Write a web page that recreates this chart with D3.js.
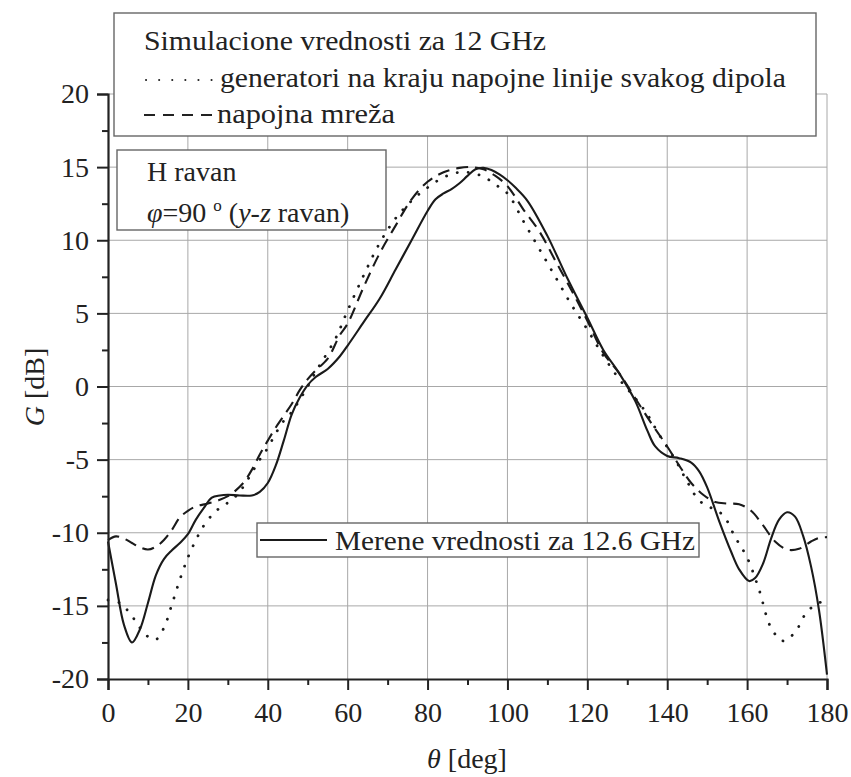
<!DOCTYPE html>
<html>
<head>
<meta charset="utf-8">
<script src="https://cdn.jsdelivr.net/npm/d3@7"></script>
<style>
  html, body { margin: 0; padding: 0; background: #fff; }
  svg { display: block; }
  svg text { font-family: "Liberation Serif", "Times New Roman", "DejaVu Serif", serif; }
</style>
</head>
<body>
<svg id="chart" width="851" height="777"></svg>
<script>
// Measured gain, 12.6 GHz: [theta deg, G dB]
const measured = [
  [0,-10.6],[2,-13.5],[4,-16.3],[6,-17.5],[8,-16.6],[10,-14.8],[12,-12.9],[14,-11.8],
  [16,-11.2],[18,-10.7],[20,-10.1],[22,-9.1],[24,-8.3],[26,-7.6],[28,-7.45],[30,-7.4],
  [33,-7.45],[36,-7.45],[38,-7.2],[40,-6.6],[42,-5.4],[44,-3.7],[46,-1.9],[48,-0.75],
  [50,0.1],[52,0.65],[55,1.2],[58,2.05],[60,2.8],[64,4.4],[68,6.0],[72,8.0],[76,10.0],
  [80,12.0],[82,12.8],[84,13.2],[86,13.5],[88,13.9],[90,14.4],[92,14.85],[94,14.95],
  [96,14.8],[98,14.5],[100,14.1],[102,13.6],[105,12.7],[110,10.3],[115,7.4],[120,4.7],
  [124,2.5],[128,0.9],[132,-1.0],[135,-3.0],[137,-4.1],[140,-4.75],[143,-4.9],[146,-5.2],
  [148,-5.8],[150,-6.9],[153,-9.2],[156,-11.3],[158,-12.5],[160.5,-13.3],[162,-13.1],
  [164,-12.1],[166,-10.4],[168,-9.1],[170,-8.6],[172,-8.9],[174,-10.2],[176,-12.3],
  [178,-15.3],[180,-19.7]
];

// Simulation, 12 GHz, feed network
const simNetwork = [
  [0,-10.5],[2,-10.25],[4,-10.4],[6,-10.7],[8,-11.0],[10,-11.15],[12,-10.95],[14,-10.5],
  [16,-9.8],[18,-8.95],[20,-8.5],[22,-8.2],[25,-8.0],[28,-7.75],[30,-7.5],[32,-7.1],
  [34,-6.55],[36,-5.7],[38,-4.65],[40,-3.7],[42,-2.8],[44,-2.0],[46,-1.2],[48,-0.25],
  [50,0.5],[52,1.1],[55,1.9],[58,3.5],[60,4.3],[64,6.8],[68,9.1],[72,11.0],[76,12.8],
  [80,14.0],[84,14.65],[88,14.95],[91,15.0],[94,14.85],[97,14.4],[100,13.7],[104,12.1],
  [108,10.6],[112,8.6],[116,6.6],[120,4.5],[124,2.3],[128,0.9],[132,-0.8],[136,-2.5],
  [140,-4.1],[143,-5.4],[146,-6.6],[149,-7.4],[152,-7.9],[155,-8.0],[158,-8.05],
  [161,-8.5],[164,-9.5],[167,-10.6],[170,-11.15],[173,-11.1],[176,-10.6],[178,-10.35],
  [180,-10.3]
];

// Simulation, 12 GHz, generators at the end of each dipole feed line
const simGenerators = [
  [0,-14.6],[3,-14.8],[6,-15.7],[8,-16.5],[10,-17.1],[12,-17.3],[14,-16.5],[16,-14.9],
  [18,-13.2],[20,-11.7],[22,-10.5],[24,-9.5],[26,-8.8],[28,-8.3],[30,-7.95],[32,-7.5],
  [34,-6.8],[36,-5.9],[38,-5.0],[40,-4.2],[42,-3.2],[44,-2.35],[46,-1.75],[48,-0.9],
  [50,0.0],[52,1.0],[54,1.9],[57,3.3],[60,5.2],[64,7.6],[68,9.8],[72,11.5],[76,12.7],
  [80,13.6],[84,14.3],[88,14.65],[91,14.6],[94,14.35],[97,13.8],[100,13.2],[104,11.3],
  [108,9.4],[112,7.5],[116,5.6],[120,3.9],[124,2.1],[128,0.5],[132,-0.8],[135,-1.9],
  [138,-3.3],[142,-5.0],[145,-6.5],[148,-7.8],[151,-8.3],[154,-8.8],[157,-10.3],
  [160,-11.7],[163,-13.9],[166,-16.5],[169,-17.4],[172,-16.8],[175,-15.4],[178,-14.8],
  [180,-14.6]
];

const xTicks = [0,20,40,60,80,100,120,140,160,180];
const yTicks = [-20,-15,-10,-5,0,5,10,15,20];
const xMinor = [10,30,50,70,90,110,130,150,170];
const yMinor = [-17.5,-12.5,-7.5,-2.5,2.5,7.5,12.5,17.5];

const FONT = "'Liberation Serif', 'Times New Roman', 'DejaVu Serif', serif";
const INK = "#222";
const FS = 28;

const svg = d3.select("#chart");
const x = d3.scaleLinear().domain([0,180]).range([108,827]);
const y = d3.scaleLinear().domain([-20,20]).range([679,94]);

// grid
const grid = svg.append("g").attr("stroke", "#a8a8a8").attr("stroke-width", 1);
grid.selectAll("line.gx").data(xTicks.slice(1)).join("line")
  .attr("x1", d => x(d)).attr("x2", d => x(d)).attr("y1", y(-20)).attr("y2", y(20));
grid.selectAll("line.gy").data(yTicks.slice(1)).join("line")
  .attr("x1", x(0)).attr("x2", x(180)).attr("y1", d => y(d)).attr("y2", d => y(d));

// curves
const line = d3.line().x(d => x(d[0])).y(d => y(d[1])).curve(d3.curveCatmullRom.alpha(0.5));
const curves = svg.append("g").attr("fill", "none").attr("stroke", "#1a1a1a");
curves.append("path").datum(simGenerators).attr("d", line)
  .attr("stroke-width", 2.8).attr("stroke-dasharray", "0.1,11").attr("stroke-linecap", "round");
curves.append("path").datum(simNetwork).attr("d", line)
  .attr("stroke-width", 2.1).attr("stroke-dasharray", "12,7");
curves.append("path").datum(measured).attr("d", line)
  .attr("stroke-width", 2.1);

// axes
const fmt = d => String(d);
svg.append("g").attr("transform", `translate(0,${y(-20)})`)
  .call(d3.axisBottom(x).tickValues(xTicks).tickSize(11).tickPadding(12).tickFormat(fmt));
svg.append("g").attr("transform", `translate(0,${y(-20)})`)
  .call(d3.axisBottom(x).tickValues(xMinor).tickSize(6).tickFormat(""))
  .call(g => g.select(".domain").remove());
svg.append("g").attr("transform", `translate(${x(0)},0)`)
  .call(d3.axisLeft(y).tickValues(yTicks).tickSize(11).tickPadding(8).tickFormat(fmt));
svg.append("g").attr("transform", `translate(${x(0)},0)`)
  .call(d3.axisLeft(y).tickValues(yMinor).tickSize(6).tickFormat(""))
  .call(g => g.select(".domain").remove());

svg.selectAll(".domain").attr("stroke", INK).attr("stroke-width", 2.2);
svg.selectAll(".tick line").attr("stroke", INK).attr("stroke-width", 2);
svg.selectAll(".tick text").attr("fill", INK).style("font-family", FONT).attr("font-size", FS);

// axis titles
svg.append("text").attr("transform", "translate(44,387) rotate(-90)")
  .attr("text-anchor", "middle").attr("font-size", FS).attr("fill", INK).style("font-family", FONT)
  .call(t => { t.append("tspan").attr("font-style", "italic").text("G"); t.append("tspan").text(" [dB]"); });
svg.append("text").attr("x", 467).attr("y", 768)
  .attr("text-anchor", "middle").attr("font-size", FS).attr("fill", INK).style("font-family", FONT)
  .call(t => { t.append("tspan").attr("font-style", "italic").text("θ"); t.append("tspan").text(" [deg]"); });

function label(g, xx, yy, s, w) {
  const t = g.append("text").attr("x", xx).attr("y", yy).attr("font-size", FS)
    .attr("fill", INK).style("font-family", FONT);
  if (s) t.text(s);
  if (w) t.attr("textLength", w).attr("lengthAdjust", "spacingAndGlyphs");
  return t;
}

// simulation legend
const leg1 = svg.append("g");
leg1.append("rect").attr("x", 114).attr("y", 13).attr("width", 702).attr("height", 123)
  .attr("fill", "#fff").attr("stroke", "#666").attr("stroke-width", 1.4);
label(leg1, 144, 50, "Simulacione vrednosti za 12 GHz", 402);
leg1.append("line").attr("x1", 146).attr("x2", 212).attr("y1", 80).attr("y2", 80)
  .attr("stroke", INK).attr("stroke-width", 2).attr("stroke-dasharray", "0.1,13").attr("stroke-linecap", "round");
label(leg1, 220, 87, "generatori na kraju napojne linije svakog dipola", 566);
leg1.append("line").attr("x1", 144).attr("x2", 212).attr("y1", 115).attr("y2", 115)
  .attr("stroke", INK).attr("stroke-width", 2).attr("stroke-dasharray", "11,8");
label(leg1, 217, 123, "napojna mreža", 178);

// plane annotation
const leg2 = svg.append("g");
leg2.append("rect").attr("x", 117).attr("y", 150).attr("width", 269).attr("height", 80)
  .attr("fill", "#fff").attr("stroke", "#666").attr("stroke-width", 1.4);
label(leg2, 147, 181, "H ravan");
label(leg2, 147, 222, null)
  .call(t => {
    t.append("tspan").attr("font-style", "italic").text("φ");
    t.append("tspan").text("=90 ");
    t.append("tspan").attr("font-size", 17).attr("dy", -11).text("o");
    t.append("tspan").attr("dy", 11).text(" (");
    t.append("tspan").attr("font-style", "italic").text("y");
    t.append("tspan").text("-");
    t.append("tspan").attr("font-style", "italic").text("z");
    t.append("tspan").text(" ravan)");
  });

// measurement legend
const leg3 = svg.append("g");
leg3.append("rect").attr("x", 257).attr("y", 523).attr("width", 442).attr("height", 34)
  .attr("fill", "#fff").attr("stroke", "#666").attr("stroke-width", 1.4);
leg3.append("line").attr("x1", 260).attr("x2", 327).attr("y1", 540).attr("y2", 540)
  .attr("stroke", "#1a1a1a").attr("stroke-width", 2.1);
label(leg3, 335, 550, "Merene vrednosti za 12.6 GHz", 360);
</script>
</body>
</html>
